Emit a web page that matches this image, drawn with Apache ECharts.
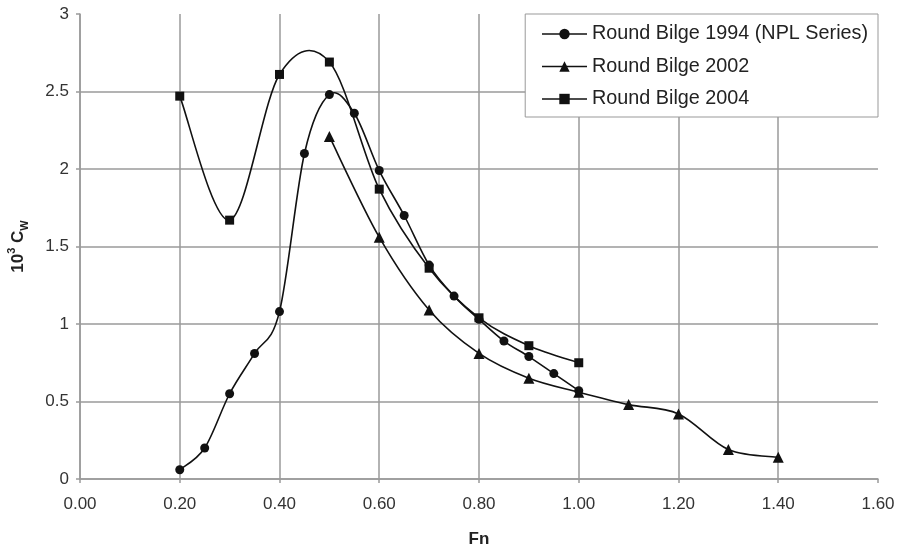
<!DOCTYPE html>
<html>
<head>
<meta charset="utf-8">
<script src="https://cdn.jsdelivr.net/npm/echarts@6/dist/echarts.min.js"></script>
<style>
html,body{margin:0;padding:0;background:#fff;}
#chart{width:899px;height:549px;}
</style>
</head>
<body>
<div id="chart"></div>
<script>
// ---- data ----
const fn1994 = [0.20, 0.25, 0.30, 0.35, 0.40, 0.45, 0.50, 0.55, 0.60, 0.65, 0.70, 0.75, 0.80, 0.85, 0.90, 0.95, 1.00];
const cw1994 = [0.06, 0.20, 0.55, 0.81, 1.08, 2.10, 2.48, 2.36, 1.99, 1.70, 1.38, 1.18, 1.03, 0.89, 0.79, 0.68, 0.57];

const fn2002 = [0.50, 0.60, 0.70, 0.80, 0.90, 1.00, 1.10, 1.20, 1.30, 1.40];
const cw2002 = [2.21, 1.56, 1.09, 0.81, 0.65, 0.56, 0.48, 0.42, 0.19, 0.14];

const fn2004 = [0.20, 0.30, 0.40, 0.50, 0.60, 0.70, 0.80, 0.90, 1.00];
const cw2004 = [2.47, 1.67, 2.61, 2.69, 1.87, 1.36, 1.04, 0.86, 0.75];

const seriesNames = ['Round Bilge 1994 (NPL Series)', 'Round Bilge 2002', 'Round Bilge 2004'];
const seriesSymbols = ['circle', 'triangle', 'rect'];
const xAxisTitle = 'Fn';

function pairs(xs, ys) { return xs.map((x, i) => [x, ys[i]]); }

const FONT = 'Liberation Sans, Arial, Helvetica, sans-serif';
const GRID_COLOR = '#9a9a9a';
const LINE_COLOR = '#111';

// Spreadsheet-style smoothed curve: one cubic Bezier per segment,
// control points from neighbouring points (Catmull-Rom, 1/6 tension),
// all positions obtained from the chart's own axes via api.coord.
function splineRender(params, api) {
  const i = params.dataIndexInside;
  const n = params.dataInsideLength;
  if (i >= n - 1) return null;
  const P = k => api.coord([api.value(0, k), api.value(1, k)]);
  const p0 = P(Math.max(i - 1, 0));
  const p1 = P(i);
  const p2 = P(i + 1);
  const p3 = P(Math.min(i + 2, n - 1));
  const t = 1 / 6;
  return {
    type: 'bezierCurve',
    silent: true,
    shape: {
      x1: p1[0], y1: p1[1], x2: p2[0], y2: p2[1],
      cpx1: p1[0] + (p2[0] - p0[0]) * t, cpy1: p1[1] + (p2[1] - p0[1]) * t,
      cpx2: p2[0] - (p3[0] - p1[0]) * t, cpy2: p2[1] - (p3[1] - p1[1]) * t
    },
    style: { stroke: LINE_COLOR, lineWidth: 1.6, fill: 'none' }
  };
}

const allData = [pairs(fn1994, cw1994), pairs(fn2002, cw2002), pairs(fn2004, cw2004)];
const symbolSizes = [9, 11, 9];

const series = [];
allData.forEach((d, k) => {
  series.push({
    name: seriesNames[k] + ' curve', type: 'custom', data: d,
    encode: { x: 0, y: 1 }, renderItem: splineRender, silent: true, z: 2
  });
});
allData.forEach((d, k) => {
  series.push({
    name: seriesNames[k], type: 'line', data: d,
    symbol: seriesSymbols[k], symbolSize: symbolSizes[k], showAllSymbol: true,
    lineStyle: { color: LINE_COLOR, width: 1.6, opacity: 0 },
    itemStyle: { color: LINE_COLOR }, z: 3
  });
});

const chart = echarts.init(document.getElementById('chart'));
chart.setOption({
  animation: false,
  backgroundColor: '#fff',
  grid: { left: 80, right: 21, top: 14, bottom: 70, containLabel: false, outerBoundsMode: 'none' },
  legend: {
    orient: 'vertical',
    right: 21,
    top: 14,
    padding: [10, 10, 8, 16],
    itemWidth: 45,
    itemHeight: 13,
    itemGap: 12.5,
    borderColor: '#999',
    borderWidth: 1,
    backgroundColor: '#fff',
    lineStyle: { color: LINE_COLOR, width: 1.6, opacity: 1 },
    textStyle: { fontFamily: FONT, fontSize: 19.8, color: '#222' },
    data: seriesNames
  },
  xAxis: {
    type: 'value',
    min: 0, max: 1.6, interval: 0.2,
    name: xAxisTitle,
    nameLocation: 'middle',
    nameGap: 52,
    nameTextStyle: { fontFamily: FONT, fontSize: 17, fontWeight: 'bold', color: '#222' },
    axisLine: { show: true, onZero: false, lineStyle: { color: GRID_COLOR, width: 1.5 } },
    axisTick: { show: true, length: 4, lineStyle: { color: GRID_COLOR, width: 1.5 } },
    axisLabel: { fontFamily: FONT, fontSize: 17, color: '#333', margin: 17,
      formatter: v => v.toFixed(2) },
    splitLine: { show: true, showMaxLine: false, lineStyle: { color: GRID_COLOR, width: 1.5 } }
  },
  yAxis: {
    type: 'value',
    min: 0, max: 3, interval: 0.5,
    name: '{n|10}{sup|3}{n| C}{sub|W}',
    nameLocation: 'middle',
    nameGap: 50,
    nameTextStyle: {
      fontFamily: FONT, fontSize: 17, fontWeight: 'bold', color: '#222',
      rich: {
        n: { fontFamily: FONT, fontSize: 17, fontWeight: 'bold', color: '#222', lineHeight: 24, verticalAlign: 'middle' },
        sup: { fontFamily: FONT, fontSize: 11, fontWeight: 'bold', color: '#222', verticalAlign: 'top' },
        sub: { fontFamily: FONT, fontSize: 11, fontWeight: 'bold', color: '#222', verticalAlign: 'bottom' }
      }
    },
    axisLine: { show: true, onZero: false, lineStyle: { color: GRID_COLOR, width: 1.5 } },
    axisTick: { show: true, length: 4, lineStyle: { color: GRID_COLOR, width: 1.5 } },
    axisLabel: { fontFamily: FONT, fontSize: 17, color: '#333', margin: 11 },
    splitLine: { show: true, showMaxLine: false, lineStyle: { color: GRID_COLOR, width: 1.5 } }
  },
  series: series
});
</script>
</body>
</html>
